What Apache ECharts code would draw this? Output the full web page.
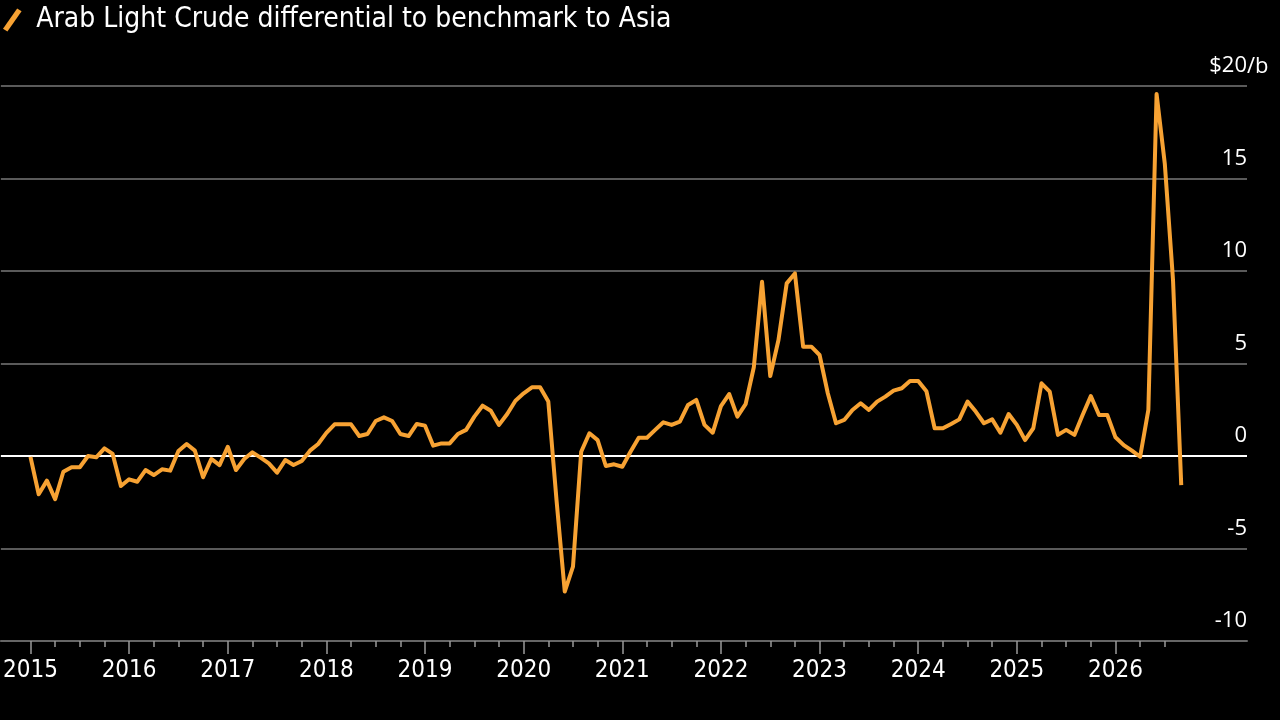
<!DOCTYPE html>
<html>
<head>
<meta charset="utf-8">
<script src="https://cdn.jsdelivr.net/npm/echarts@6/dist/echarts.min.js"></script>
<style>
  html, body { margin: 0; padding: 0; background: #000; }
  #chart { width: 1280px; height: 720px; }
</style>
</head>
<body>
<div id="chart"></div>
<script>
// Monthly values, Jan 2015 .. Sep 2026 ($/b)
const seriesName = 'Arab Light Crude differential to benchmark to Asia';
const yearLabels = ['2015','2016','2017','2018','2019','2020','2021','2022','2023','2024','2025','2026'];
const values2015 = [-0.05, -2.07, -1.33, -2.34, -0.85, -0.61, -0.61, 0.0, -0.07, 0.41, 0.11, -1.62];
const values2016 = [-1.26, -1.39, -0.76, -1.03, -0.72, -0.79, 0.27, 0.65, 0.29, -1.15, -0.16, -0.49];
const values2017 = [0.5, -0.76, -0.16, 0.2, -0.09, -0.4, -0.9, -0.22, -0.49, -0.27, 0.29, 0.65];
const values2018 = [1.25, 1.71, 1.71, 1.71, 1.08, 1.19, 1.89, 2.09, 1.89, 1.19, 1.08, 1.73];
const values2019 = [1.64, 0.56, 0.68, 0.68, 1.19, 1.41, 2.13, 2.72, 2.45, 1.68, 2.27, 2.99];
const values2020 = [3.39, 3.71, 3.71, 2.94, -2.4, -7.33, -5.98, 0.23, 1.23, 0.86, -0.54, -0.45];
const values2021 = [-0.58, 0.23, 0.99, 0.99, 1.41, 1.82, 1.68, 1.86, 2.76, 3.03, 1.68, 1.26];
const values2022 = [2.7, 3.35, 2.13, 2.8, 4.8, 9.42, 4.32, 6.27, 9.33, 9.87, 5.91, 5.91];
const values2023 = [5.46, 3.39, 1.77, 1.95, 2.49, 2.85, 2.49, 2.94, 3.21, 3.53, 3.66, 4.05];
const values2024 = [4.05, 3.5, 1.5, 1.5, 1.73, 1.98, 2.94, 2.4, 1.77, 1.98, 1.26, 2.27];
const values2025 = [1.68, 0.86, 1.5, 3.93, 3.48, 1.14, 1.41, 1.14, 2.22, 3.24, 2.22, 2.22];
const values2026 = [1.01, 0.59, 0.29, -0.04, 2.49, 19.57, 15.8, 9.5, -1.57];

const allValues = [].concat(values2015, values2016, values2017, values2018, values2019,
  values2020, values2021, values2022, values2023, values2024, values2025, values2026);
const seriesData = allValues.map((v, i) => [i, v]);

const majorTicks = yearLabels.map((y, i) => i * 12);
const minorTicks = [];
for (let m = 3; m <= 138; m += 3) { if (m % 12 !== 0) minorTicks.push(m); }

const chart = echarts.init(document.getElementById('chart'));
const FONT_C = '"DejaVu Sans Condensed", "Liberation Sans Narrow", sans-serif';
const FONT_Y = '"Open Sans", "Noto Sans", sans-serif';
const GRID_GRAY = '#5a5a5a';

chart.setOption({
  backgroundColor: '#000',
  animation: false,
  legend: {
    show: true,
    left: 3,
    top: 6,
    padding: 0,
    data: [{ name: seriesName, icon: 'path://M16,0 L21,3 L5,26 L0,23 Z' }],
    itemWidth: 20,
    itemHeight: 23,
    textStyle: { color: '#fff', fontSize: 28, fontFamily: FONT_C, padding: [0, 0, 0, 9] },
    selectedMode: false
  },
  grid: { left: 0, right: 33, top: 86, bottom: 79, containLabel: false },
  xAxis: [
    {
      type: 'value',
      min: -3.6,
      max: 148,
      position: 'bottom',
      axisLine: { show: true, onZero: false, lineStyle: { color: '#666', width: 2 } },
      axisTick: { show: true, customValues: majorTicks, length: 13, lineStyle: { color: '#999', width: 1.5 } },
      axisLabel: {
        show: true,
        customValues: majorTicks,
        formatter: v => yearLabels[Math.round(v / 12)],
        color: '#fff',
        fontSize: 24,
        fontFamily: FONT_C,
        margin: 18
      },
      splitLine: { show: false }
    },
    {
      type: 'value',
      min: -3.6,
      max: 148,
      position: 'bottom',
      offset: 0,
      axisLine: { show: false, onZero: false },
      axisTick: { show: true, customValues: minorTicks, length: 6, lineStyle: { color: '#999', width: 1.5 } },
      axisLabel: { show: false },
      splitLine: { show: false }
    }
  ],
  yAxis: {
    type: 'value',
    min: -10,
    max: 20,
    interval: 5,
    position: 'right',
    axisLine: { show: false },
    axisTick: { show: false },
    axisLabel: {
      inside: true,
      margin: 0,
      verticalAlign: 'bottom',
      padding: [0, 0, 9, 0],
      color: '#fff',
      fontSize: 22,
      fontFamily: FONT_Y,
      formatter: v => (v === 20 ? '$20' : String(v))
    },
    splitLine: {
      show: true,
      lineStyle: { color: [GRID_GRAY, GRID_GRAY, '#ffffff', GRID_GRAY, GRID_GRAY, GRID_GRAY, GRID_GRAY], width: 2 }
    }
  },
  graphic: [
    {
      type: 'text',
      left: 1247,
      top: 56,
      style: { text: '/b', fill: '#fff', font: '22px ' + FONT_Y }
    }
  ],
  series: [
    {
      name: seriesName,
      type: 'line',
      xAxisIndex: 0,
      data: seriesData,
      showSymbol: false,
      symbol: 'none',
      smooth: false,
      itemStyle: { color: '#f7a233' },
      lineStyle: { color: '#f7a233', width: 4, join: 'round' },
      z: 5
    }
  ]
});
</script>
</body>
</html>
